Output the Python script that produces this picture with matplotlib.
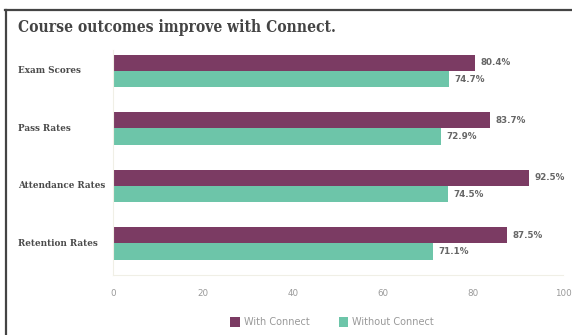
import matplotlib
matplotlib.use("Agg")
import matplotlib.pyplot as plt
import matplotlib.transforms as mtransforms
from matplotlib.patches import Patch
from matplotlib.lines import Line2D

categories = ["Exam Scores", "Pass Rates", "Attendance Rates", "Retention Rates"]
with_connect = [80.4, 83.7, 92.5, 87.5]
without_connect = [74.7, 72.9, 74.5, 71.1]
xticks = [0, 20, 40, 60, 80, 100]
series_names = ["With Connect", "Without Connect"]

PURPLE = "#7B3B63"
TEAL = "#6DC5A9"

W, H = 572, 335
fig = plt.figure(figsize=(W / 100, H / 100), dpi=100)
fig.patch.set_facecolor("white")

ax = fig.add_axes([113 / W, 1 - 275 / H, (563 - 113) / W, (275 - 50) / H])
ax.set_facecolor("white")

bh = 0.28
ys = list(range(len(categories)))
ax.barh([y - bh / 2 for y in ys], with_connect, height=bh, color=PURPLE, label=series_names[0])
ax.barh([y + bh / 2 for y in ys], without_connect, height=bh, color=TEAL, label=series_names[1])

for y, v in zip(ys, with_connect):
    ax.text(v + 1.2, y - bh / 2, f"{v}%", va="center", ha="left", fontsize=6.3,
            fontweight="bold", color="#666666")
for y, v in zip(ys, without_connect):
    ax.text(v + 1.2, y + bh / 2, f"{v}%", va="center", ha="left", fontsize=6.3,
            fontweight="bold", color="#666666")

ax.set_xlim(0, 100)
ax.set_ylim(3.548, -0.365)
ax.set_xticks(xticks)
ax.set_xticklabels([str(t) for t in xticks], fontsize=6.3, color="#999999")
ax.tick_params(axis="x", length=0, pad=10)
ax.set_yticks([])
for s in ["top", "right"]:
    ax.spines[s].set_visible(False)
for s in ["left", "bottom"]:
    ax.spines[s].set_color("#f0efe6")
    ax.spines[s].set_linewidth(0.8)

trans = mtransforms.blended_transform_factory(fig.transFigure, ax.transData)
for y, c in zip(ys, categories):
    ax.text(18 / W, y, c, transform=trans, ha="left", va="center", fontsize=7,
            fontweight="bold", family="DejaVu Serif", fontstretch="condensed",
            color="#4a4a4a")

fig.text(18 / W, 1 - 27 / H, "Course outcomes improve with Connect.", ha="left", va="center",
         fontsize=11.2, fontweight="bold", family="DejaVu Serif", fontstretch="condensed",
         color="#444444")

handles = [Patch(facecolor=PURPLE, edgecolor="none"), Patch(facecolor=TEAL, edgecolor="none")]
leg = fig.legend(handles, series_names, loc="center", bbox_to_anchor=(332 / W, 1 - 322 / H),
                 ncol=2, frameon=False, fontsize=7, handlelength=1.0, handleheight=1.2,
                 handletextpad=0.4, columnspacing=3.0)
for t in leg.get_texts():
    t.set_color("#999999")

# outer frame lines (top and left)
fig.add_artist(Line2D([5 / W, 1], [1 - 9.5 / H, 1 - 9.5 / H], transform=fig.transFigure,
                      color="#444444", lw=1.6))
fig.add_artist(Line2D([5.5 / W, 5.5 / W], [0, 1 - 9.5 / H], transform=fig.transFigure,
                      color="#444444", lw=1.6))

fig.savefig("out.png", dpi=100, facecolor="white")
